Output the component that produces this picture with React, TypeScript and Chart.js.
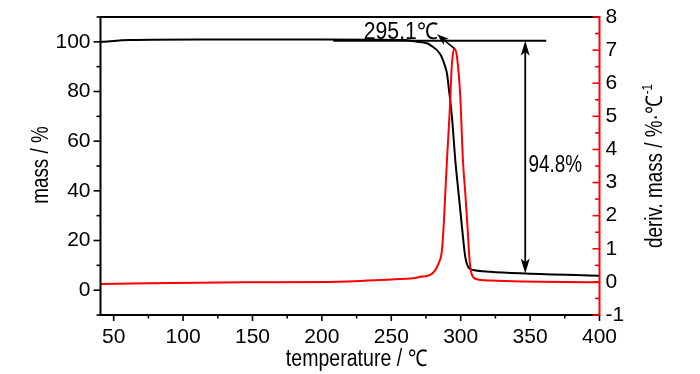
import React, { useEffect, useRef } from 'react';
import { Chart, registerables } from 'chart.js';

Chart.register(...registerables);

// ---------- data ----------
const massTemps = [40.5, 62, 112.5, 200, 260, 264, 275.6, 278.1, 285.3, 288.9, 290.1, 291.3, 293.7, 296.1, 298.5, 300.9, 303.3, 305.7, 309.3, 321.3, 346.5, 400];
const massValues = [100.0, 100.7, 100.9, 100.9, 100.7, 100.4, 99.4, 98.7, 95.0, 89.9, 87.3, 81.9, 69.8, 52.4, 38.9, 25.5, 13.4, 9.1, 8.1, 7.4, 6.7, 5.8];

const derivTemps = [40.5, 145, 205, 253, 264, 272.3, 278.1, 284.1, 286.5, 287.7, 288.9, 290.1, 292, 293.7, 295.4, 297.3, 299.7, 301.6, 303.3, 304.9, 306.4, 308.1, 311.7, 321.3, 400];
const derivValues = [-0.06, -0.01, 0.0, 0.08, 0.1, 0.16, 0.21, 0.56, 0.96, 1.67, 2.68, 3.68, 5.09, 6.6, 7.05, 6.8, 5.59, 3.68, 2.68, 1.67, 0.66, 0.21, 0.08, 0.04, -0.01];

const tempTicks = [50, 100, 150, 200, 250, 300, 350, 400];
const massTicks = [0, 20, 40, 60, 80, 100];
const derivTicks = [-1, 0, 1, 2, 3, 4, 5, 6, 7, 8];

const peakTemp = 295.4;
const peakValue = 7.05;
const peakLabel = '295.1℃';
const massLossLabel = '94.8%';
const massTop = 100.4;
const massBottom = 6.7;
const lossTemp = 346.5;

const xTitle = 'temperature / ℃';
const yTitle = 'mass / %';
const y1Title = 'deriv. mass / %·℃';
const y1TitleSup = '-1';

// ---------- styles ----------
const TICK_FONT = "'Liberation Sans', Arial, sans-serif";
const TICK_FS = 21;
const TXT_FONT = "'Liberation Sans', Arial, sans-serif";
const TXT_FS = 23;
const NARROW = 0.82;

function arrowHead(ctx: CanvasRenderingContext2D, tx: number, ty: number, angle: number, len = 13, hw = 4) {
  ctx.save();
  ctx.translate(tx, ty);
  ctx.rotate(angle);
  ctx.beginPath();
  ctx.moveTo(0, 0);
  ctx.lineTo(-len, -hw);
  ctx.lineTo(-len * 0.75, 0);
  ctx.lineTo(-len, hw);
  ctx.closePath();
  ctx.fill();
  ctx.restore();
}

function narrowText(ctx: CanvasRenderingContext2D, text: string, x: number, y: number, align: CanvasTextAlign, rot = 0, size = TXT_FS, narrow = NARROW) {
  ctx.save();
  ctx.translate(x, y);
  if (rot) ctx.rotate(rot);
  ctx.scale(narrow, 1);
  ctx.font = `${size}px ${TXT_FONT}`;
  ctx.textAlign = align;
  ctx.textBaseline = 'alphabetic';
  ctx.fillText(text, 0, 0);
  const w = ctx.measureText(text).width * narrow;
  ctx.restore();
  return w;
}

const decorPlugin = {
  id: 'decor',
  afterDraw(chart: any) {
    const { ctx, chartArea: a, scales } = chart;
    const sx = scales.x, sy = scales.y, sy1 = scales.y1;
    ctx.save();
    const seg = (x1: number, y1: number, x2: number, y2: number) => {
      ctx.beginPath();
      ctx.moveTo(x1, y1);
      ctx.lineTo(x2, y2);
      ctx.stroke();
    };
    // frame
    ctx.lineCap = 'butt';
    ctx.strokeStyle = '#000';
    ctx.lineWidth = 2;
    seg(a.left - 1, a.top, a.right, a.top);
    seg(a.left, a.top, a.left, a.bottom);
    seg(a.left - 1, a.bottom, a.right, a.bottom);
    // x ticks
    ctx.lineWidth = 1.6;
    for (let v = 25; v <= 400; v += 25) {
      if (v < sx.min) continue;
      const px = sx.getPixelForValue(v);
      const len = v % 50 === 0 ? 6 : 3.5;
      seg(px, a.bottom, px, a.bottom + len);
    }
    // left ticks
    for (let v = -10; v <= 110; v += 10) {
      const py = sy.getPixelForValue(v);
      const len = v % 20 === 0 ? 7 : 4;
      seg(a.left - len, py, a.left, py);
    }
    // right axis red
    ctx.strokeStyle = '#ff0000';
    ctx.lineWidth = 2;
    seg(a.right, a.top - 1, a.right, a.bottom + 1);
    ctx.lineWidth = 1.6;
    for (let v = -1; v <= 8; v += 0.5) {
      const py = sy1.getPixelForValue(v);
      const len = Number.isInteger(v) ? 7 : 4.5;
      seg(a.right - len, py, a.right, py);
    }

    // annotations
    ctx.strokeStyle = '#000';
    ctx.fillStyle = '#000';
    ctx.lineWidth = 2;
    const yTop = sy.getPixelForValue(massTop);
    seg(sx.getPixelForValue(208.2), yTop, sx.getPixelForValue(361.6), yTop);
    const ax = sx.getPixelForValue(lossTemp);
    const yBot = sy.getPixelForValue(massBottom);
    ctx.lineWidth = 1.8;
    seg(ax, yTop + 8, ax, yBot - 8);
    arrowHead(ctx, ax, yTop, -Math.PI / 2, 15, 4.5);
    arrowHead(ctx, ax, yBot, Math.PI / 2, 15, 4.5);
    const px0 = sx.getPixelForValue(peakTemp);
    const py0 = sy1.getPixelForValue(peakValue);
    const px1 = sx.getPixelForValue(282.9);
    const py1 = sy1.getPixelForValue(7.48);
    const ang = Math.atan2(py1 - py0, px1 - px0);
    ctx.lineWidth = 1.6;
    seg(px0, py0, px1 - Math.cos(ang) * 8, py1 - Math.sin(ang) * 8);
    arrowHead(ctx, px1, py1, ang, 12, 4);

    // texts
    narrowText(ctx, peakLabel, sx.getPixelForValue(283.6), sy1.getPixelForValue(7.35), 'right', 0, TXT_FS, 0.92);
    narrowText(ctx, massLossLabel, sx.getPixelForValue(348.8), sy.getPixelForValue(47.6), 'left');

    // axis titles
    narrowText(ctx, xTitle, 356.5, 366, 'center', 0, TXT_FS, 0.85);
    narrowText(ctx, yTitle, 48, 165, 'center', -Math.PI / 2);
    const w = narrowText(ctx, y1Title, 662, 248, 'left', -Math.PI / 2);
    ctx.save();
    ctx.translate(662, 248);
    ctx.rotate(-Math.PI / 2);
    narrowText(ctx, y1TitleSup, w + 1, -10, 'left', 0, 14);
    ctx.restore();

    ctx.restore();
  },
};

export default function App() {
  const ref = useRef<HTMLCanvasElement | null>(null);
  useEffect(() => {
    if (!ref.current) return;
    const tickFont = { family: TICK_FONT, size: TICK_FS };
    const noPad = (s: any) => { s.paddingTop = 0; s.paddingBottom = 0; };
    const chart = new Chart(ref.current, {
      type: 'line',
      data: {
        datasets: [
          {
            label: 'deriv',
            data: derivTemps.map((t, i) => ({ x: t, y: derivValues[i] })),
            yAxisID: 'y1',
            borderColor: '#ff0000',
            borderWidth: 2,
            pointRadius: 0,
            fill: false,
            cubicInterpolationMode: 'monotone',
            order: 0,
          },
          {
            label: 'mass',
            data: massTemps.map((t, i) => ({ x: t, y: massValues[i] })),
            yAxisID: 'y',
            borderColor: '#000000',
            borderWidth: 2,
            pointRadius: 0,
            fill: false,
            cubicInterpolationMode: 'monotone',
            order: 1,
          },
        ],
      },
      options: {
        responsive: false,
        animation: false,
        devicePixelRatio: 1,
        layout: { padding: { top: 17, left: 0, right: 0, bottom: 0 } },
        plugins: { legend: { display: false }, tooltip: { enabled: false } },
        scales: {
          x: {
            type: 'linear',
            min: 40.5,
            max: 400,
            grid: { display: false, drawTicks: false },
            border: { display: false },
            ticks: { font: tickFont, color: '#000', padding: 10, maxRotation: 0, autoSkip: false },
            afterBuildTicks: (s: any) => { s.ticks = tempTicks.map((v) => ({ value: v })); },
            afterFit: (s: any) => { s.height = 59; s.paddingLeft = 0; s.paddingRight = 0; },
          },
          y: {
            type: 'linear',
            position: 'left',
            min: -10,
            max: 110,
            grid: { display: false, drawTicks: false },
            border: { display: false },
            ticks: { font: tickFont, color: '#000', padding: 10, autoSkip: false },
            afterBuildTicks: (s: any) => { s.ticks = massTicks.map((v) => ({ value: v })); },
            afterFit: (s: any) => { s.width = 100.5; noPad(s); },
          },
          y1: {
            type: 'linear',
            position: 'right',
            min: -1,
            max: 8,
            grid: { display: false, drawTicks: false },
            border: { display: false },
            ticks: { font: tickFont, color: '#000', padding: 6, autoSkip: false },
            afterBuildTicks: (s: any) => { s.ticks = derivTicks.map((v) => ({ value: v })); },
            afterFit: (s: any) => { s.width = 100.5; noPad(s); },
          },
        },
      },
      plugins: [decorPlugin],
    } as any);
    return () => chart.destroy();
  }, []);
  return (
    <div style={{ position: 'absolute', left: 0, top: 0, width: 700, height: 374, background: '#fff' }}>
      <canvas ref={ref} width={700} height={374} />
    </div>
  );
}
